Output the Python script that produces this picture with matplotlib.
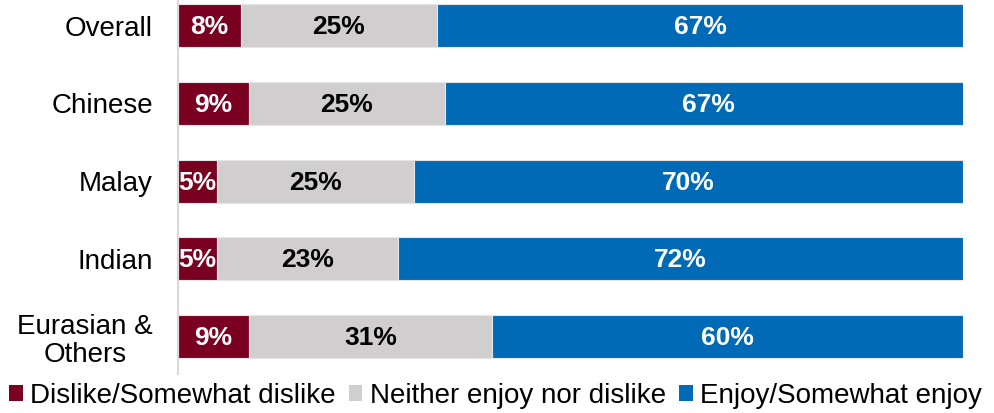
import numpy as np
import matplotlib.pyplot as plt
from matplotlib.patches import Patch

plt.rcParams['font.family'] = ['Liberation Sans', 'DejaVu Sans']

groups = ['Overall', 'Chinese', 'Malay', 'Indian', 'Eurasian &\nOthers']
dislike = [8, 9, 5, 5, 9]
neither = [25, 25, 25, 23, 31]
enjoy = [67, 67, 70, 72, 60]

series = [
    ('Dislike/Somewhat dislike', dislike, '#7A0021', 'white'),
    ('Neither enjoy nor dislike', neither, '#D0CECF', 'black'),
    ('Enjoy/Somewhat enjoy', enjoy, '#006AB6', 'white'),
]

fig = plt.figure(figsize=(9.94, 4.13), dpi=100)
ax = fig.add_axes([0.179, 0.0944, 0.79, 0.9056])

y = np.arange(len(groups))
left = np.zeros(len(groups))
for name, vals, color, txt in series:
    vals = np.array(vals, dtype=float)
    ax.barh(y, vals, left=left, height=0.553, color=color,
            edgecolor='#E6E6E6', linewidth=0.8, label=name)
    for yi, l, v in zip(y, left, vals):
        ax.text(l + v / 2, yi + 0.02, f'{v:.0f}%', ha='center', va='center',
                color=txt, fontsize=19, fontweight='bold')
    left += vals

ax.set_xlim(0, 100)
ax.set_ylim(4.48, -0.33)
ax.set_xticks([])
ax.set_yticks(y)
ax.set_yticklabels(groups, fontsize=20, linespacing=1.1,
                   ha='right', multialignment='center')
ax.tick_params(axis='y', length=0, pad=18)
for side in ['top', 'right', 'bottom']:
    ax.spines[side].set_visible(False)
ax.spines['left'].set_color('#D9D9D9')
ax.spines['left'].set_linewidth(1.5)

handles = [Patch(facecolor=c, edgecolor='none', label=n) for n, _, c, _ in series]
fig.legend(handles=handles, loc='lower left', bbox_to_anchor=(-0.008, -0.03),
           ncol=3, frameon=False, fontsize=20, handlelength=0.5,
           handleheight=0.5, handletextpad=0.28, columnspacing=0.45,
           borderaxespad=0.2)

fig.savefig('out.png', dpi=100)
